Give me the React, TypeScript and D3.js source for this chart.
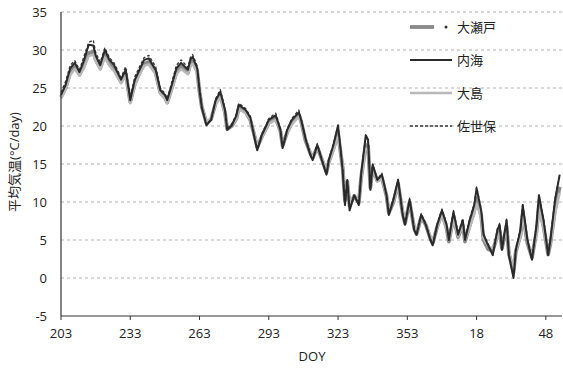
import { useEffect } from "react";
import * as d3 from "d3";

const W = 563;
const H = 371;
const MARGIN = { top: 12, right: 1, bottom: 55, left: 61 };

// days since DOY 203
const days = [
  0, 2, 4, 6, 8, 10, 12, 14, 15, 17,
  19, 21, 23, 26, 28, 30, 32, 34, 36, 38,
  41, 43, 45, 46, 48, 50, 52, 55, 56, 57,
  59, 60, 61, 63, 65, 67, 69, 71, 72, 74,
  76, 77, 80, 82, 84, 85, 87, 89, 90, 93,
  95, 96, 98, 100, 103, 104, 106, 108, 109, 111,
  113, 115, 116, 118, 120, 122, 123, 124, 125, 127,
  129, 130, 132, 133, 134, 135, 137, 139, 141, 142,
  144, 146, 148, 149, 151, 153, 154, 156, 158, 160,
  161, 163, 165, 167, 168, 170, 172, 174, 175, 177,
  179, 180, 182, 183, 185, 187, 189, 190, 191, 193,
  194, 196, 197, 199, 200, 202, 204, 206, 207, 209,
  211, 212, 214, 216,
];

const oseto = [
  23.8, 25.0, 27.0, 27.8, 26.8, 28.0, 29.6, 29.8, 28.8, 27.6,
  29.4, 28.2, 27.5, 25.8, 26.9, 23.2, 25.6, 27.0, 28.2, 28.4,
  27.0, 24.4, 23.8, 23.1, 25.0, 27.1, 27.8, 27.0, 28.2, 28.5,
  27.2, 24.5, 22.5, 20.4, 20.9, 23.0, 24.0, 21.8, 19.6, 20.0,
  21.0, 22.4, 21.8, 20.8, 18.5, 17.2, 18.6, 19.8, 20.4, 21.0,
  19.4, 17.4, 19.2, 20.4, 21.5, 20.6, 18.0, 16.4, 15.8, 17.2,
  15.6, 13.9, 15.3, 17.0, 19.0, 14.5, 10.2, 12.6, 9.5, 10.8,
  9.9, 13.2, 17.5, 17.4, 11.9, 14.5, 12.8, 13.2, 10.8, 8.6,
  10.0, 12.4, 8.5, 7.2, 10.0, 6.5, 5.8, 8.0, 7.0, 5.2,
  4.6, 6.8, 8.5, 6.6, 4.8, 8.0, 5.4, 7.0, 4.8, 6.9,
  8.9, 10.5, 8.2, 5.0, 3.8, 3.6, 5.5, 6.2, 3.9, 6.8,
  3.2, 0.8, 3.5, 5.6, 8.5, 4.6, 2.7, 6.2, 9.6, 6.8,
  3.1, 4.6, 9.0, 12.0,
];

const oshima = [
  23.6, 24.8, 26.7, 27.5, 26.6, 27.6, 29.2, 29.4, 28.5, 27.4,
  29.0, 27.9, 27.2, 25.6, 26.6, 23.0, 25.3, 26.7, 27.9, 28.1,
  26.8, 24.2, 23.6, 23.0, 24.8, 26.8, 27.5, 26.8, 27.9, 28.2,
  27.0, 24.6, 22.6, 20.6, 21.0, 22.8, 23.8, 21.7, 19.8, 20.1,
  20.9, 22.2, 21.7, 20.8, 18.7, 17.5, 18.5, 19.7, 20.3, 20.8,
  19.5, 17.6, 19.1, 20.2, 21.2, 20.5, 18.2, 16.6, 16.0, 17.0,
  15.8, 14.2, 15.2, 16.8, 18.6, 14.8, 10.6, 12.5, 9.9, 10.9,
  10.2, 13.0, 17.0, 17.0, 12.2, 14.2, 12.7, 13.0, 10.9, 8.9,
  10.0, 12.0, 8.8, 7.5, 9.8, 6.8, 6.1, 7.9, 7.1, 5.5,
  4.9, 6.7, 8.2, 6.5, 5.0, 7.6, 5.5, 6.8, 5.0, 6.6,
  8.4, 9.8, 7.9, 5.2, 4.2, 3.9, 5.2, 5.9, 4.2, 6.4,
  3.5, 1.3, 3.6, 5.3, 8.0, 4.8, 3.0, 5.8, 9.0, 6.5,
  3.4, 4.5, 8.5, 11.2,
];

const sasebo = [
  24.4, 25.9, 28.0, 28.6, 27.4, 29.2, 31.0, 31.3, 29.7, 28.4,
  30.3, 29.0, 28.3, 26.4, 27.8, 23.8, 26.5, 27.8, 29.0, 29.3,
  27.8, 25.0, 24.3, 23.6, 25.8, 28.0, 28.7, 27.7, 29.0, 29.4,
  27.9, 25.0, 22.6, 20.2, 20.9, 23.6, 24.8, 22.4, 19.7, 20.3,
  21.6, 23.0, 22.3, 21.3, 18.4, 17.0, 19.0, 20.3, 21.0, 21.7,
  19.7, 17.3, 19.7, 21.0, 22.1, 21.0, 18.4, 16.4, 15.7, 17.7,
  15.7, 13.8, 15.7, 17.7, 20.0, 14.4, 9.8, 13.0, 9.1, 11.0,
  9.8, 13.8, 18.5, 18.0, 11.8, 15.0, 13.0, 13.8, 11.0, 8.5,
  10.5, 13.0, 8.5, 7.2, 10.5, 6.5, 5.9, 8.5, 7.2, 5.2,
  4.5, 7.2, 9.1, 7.2, 5.2, 8.9, 5.9, 7.8, 5.2, 7.8,
  9.8, 12.0, 9.1, 5.9, 4.5, 3.2, 6.5, 7.2, 3.9, 7.8,
  3.2, 0.3, 3.9, 6.5, 9.8, 5.2, 2.6, 7.2, 11.1, 7.8,
  3.2, 5.2, 10.5, 13.5,
];

const uchiumi = [
  24.1, 25.4, 27.6, 28.3, 27.1, 28.7, 30.7, 30.6, 29.3, 28.0,
  30.0, 28.7, 28.0, 26.1, 27.4, 23.4, 26.1, 27.4, 28.7, 28.9,
  27.4, 24.7, 24.1, 23.4, 25.4, 27.6, 28.3, 27.4, 28.7, 29.1,
  27.6, 24.7, 22.4, 20.1, 20.8, 23.4, 24.5, 22.1, 19.5, 20.1,
  21.4, 22.8, 22.1, 21.1, 18.2, 16.8, 18.8, 20.1, 20.8, 21.4,
  19.5, 17.1, 19.5, 20.8, 21.8, 20.8, 18.2, 16.2, 15.5, 17.5,
  15.5, 13.6, 15.5, 17.5, 20.1, 14.2, 9.6, 12.9, 8.9, 10.9,
  9.6, 13.6, 18.8, 18.2, 11.6, 14.9, 12.9, 13.6, 10.9, 8.3,
  10.3, 12.9, 8.3, 7.0, 10.3, 6.3, 5.7, 8.3, 7.0, 5.0,
  4.3, 7.0, 8.9, 7.0, 5.0, 8.7, 5.7, 7.6, 5.0, 7.6,
  9.6, 11.8, 8.9, 5.7, 4.3, 3.0, 6.3, 7.0, 3.7, 7.6,
  3.0, 0.0, 3.7, 6.3, 9.6, 5.0, 2.4, 7.0, 10.9, 7.6,
  3.0, 5.0, 10.3, 13.6,
];

const xTickOffsets = [0, 30, 60, 90, 120, 150, 180, 210];
const xTickLabels = ["203", "233", "263", "293", "323", "353", "18", "48"];
const yTicks = [-5, 0, 5, 10, 15, 20, 25, 30, 35];

const series = [
  { name: "大瀬戸", values: oseto, color: "#8a8a8a", width: 3.8, dash: "" },
  { name: "大島", values: oshima, color: "#b8b8b8", width: 2.4, dash: "" },
  { name: "佐世保", values: sasebo, color: "#3a3a3a", width: 1.3, dash: "3,2" },
  { name: "内海", values: uchiumi, color: "#2a2a2a", width: 2, dash: "" },
];

const FONT = "'Open Sans', 'Noto Sans CJK JP', sans-serif";

export default function App() {
  useEffect(() => {
    document.body.style.margin = "0";
  }, []);

  const x = d3.scaleLinear().domain([0, 217]).range([MARGIN.left, W - MARGIN.right]);
  const y = d3.scaleLinear().domain([-5, 35]).range([H - MARGIN.bottom, MARGIN.top]);

  const line = (vals: number[]) =>
    d3.line<number>()
      .x((_, i) => x(days[i]))
      .y((d) => y(d))(vals) || "";

  const legendRows = [
    { label: "大瀬戸", color: "#8a8a8a", width: 3.8, dash: "", dot: true },
    { label: "内海", color: "#2a2a2a", width: 2, dash: "", dot: false },
    { label: "大島", color: "#b8b8b8", width: 2.6, dash: "", dot: false },
    { label: "佐世保", color: "#3a3a3a", width: 1.3, dash: "3,2", dot: false },
  ];

  return (
    <svg width={W} height={H} style={{ display: "block", background: "#fff" }}>
      {/* grid */}
      {yTicks.filter((t) => t > -5).map((t) => (
        <line key={t} x1={MARGIN.left} x2={W - MARGIN.right} y1={y(t)} y2={y(t)}
          stroke="#a0a0a0" strokeWidth={0.8} strokeDasharray="3,3" />
      ))}

      {/* series */}
      {series.map((s) => (
        <path key={s.name} d={line(s.values)} fill="none" stroke={s.color}
          strokeWidth={s.width} strokeDasharray={s.dash || undefined} strokeLinejoin="round" />
      ))}

      {/* axes */}
      <line x1={MARGIN.left} x2={MARGIN.left} y1={MARGIN.top} y2={y(-5)} stroke="#333" strokeWidth={1.2} />
      <line x1={MARGIN.left} x2={W - MARGIN.right} y1={y(-5)} y2={y(-5)} stroke="#333" strokeWidth={1.2} />
      {xTickOffsets.map((d, i) => (
        <g key={d}>
          <line x1={x(d)} x2={x(d)} y1={y(-5)} y2={y(-5) + 4} stroke="#333" />
          <text x={x(d)} y={y(-5) + 22} textAnchor="middle" fontSize={13} fontFamily={FONT} fill="#222">
            {xTickLabels[i]}
          </text>
        </g>
      ))}
      {yTicks.map((t) => (
        <text key={t} x={MARGIN.left - 14} y={y(t) + 5} textAnchor="end" fontSize={13} fontFamily={FONT} fill="#222">
          {t}
        </text>
      ))}

      <text x={(MARGIN.left + W) / 2} y={H - 10} textAnchor="middle" fontSize={13} fontFamily={FONT} fill="#222">
        DOY
      </text>
      <text transform={`translate(19, 162) rotate(-90)`} textAnchor="middle" fontSize={13} fontFamily={FONT} fill="#222">
        平均気温(°C/day)
      </text>

      {/* legend */}
      {legendRows.map((r, i) => {
        const ly = 27 + i * 33;
        return (
          <g key={r.label}>
            <line x1={410} x2={r.dot ? 434 : 452} y1={ly} y2={ly} stroke={r.color}
              strokeWidth={r.width} strokeDasharray={r.dash || undefined} />
            {r.dot && <circle cx={446} cy={ly} r={1.5} fill="#333" />}
            <text x={457} y={ly + 5} fontSize={13} fontFamily={FONT} fill="#222">{r.label}</text>
          </g>
        );
      })}
    </svg>
  );
}
